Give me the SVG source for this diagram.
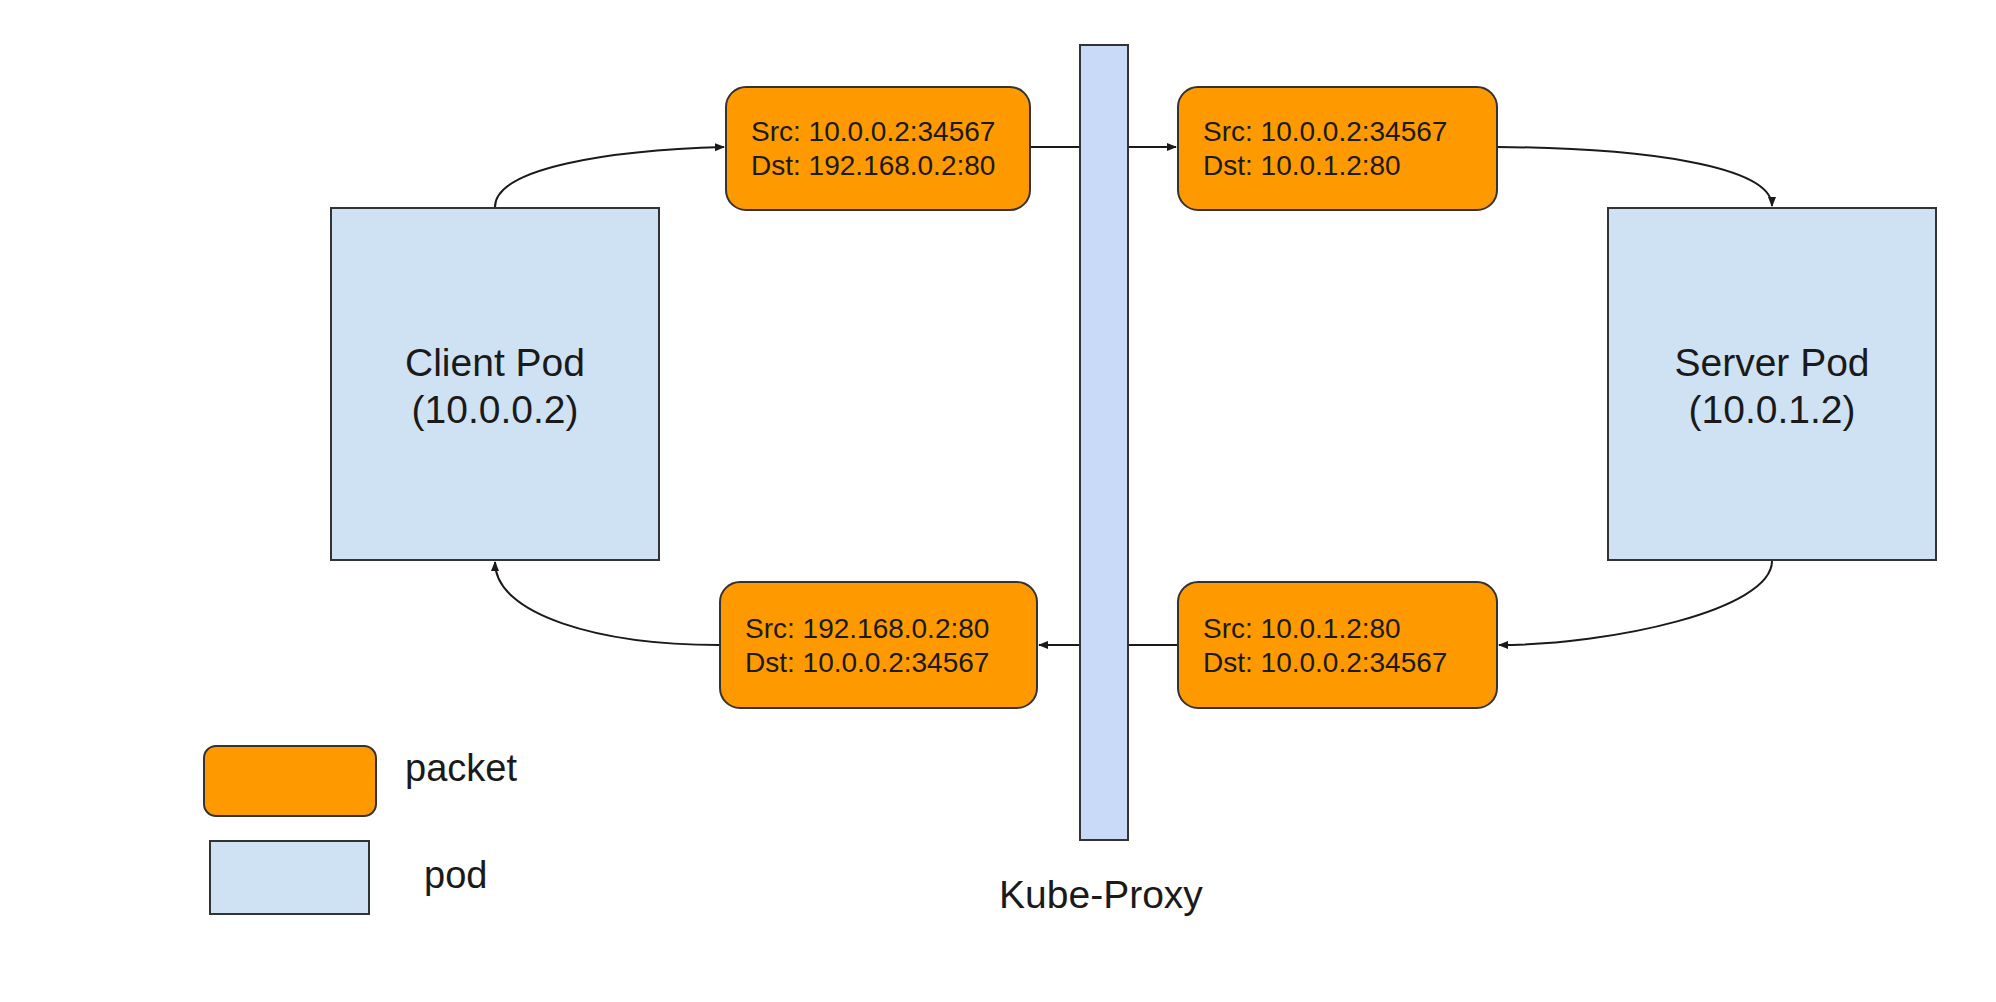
<svg xmlns="http://www.w3.org/2000/svg" width="1996" height="1002" viewBox="0 0 1996 1002">
<defs>
<style>
.pod{fill:#cfe2f3;stroke:#333;stroke-width:2}
.bar{fill:#c9daf8;stroke:#333;stroke-width:2}
.pkt{fill:#ff9900;stroke:#333;stroke-width:2}
.t{font-family:"Liberation Sans",Arial,sans-serif;fill:#1a1a1a}
.pt{font-size:28px}
.big{font-size:39px;text-anchor:middle}
.leg{font-size:38px}
.c{fill:none;stroke:#1a1a1a;stroke-width:2}
</style>
<marker id="ah" markerWidth="10" markerHeight="10" refX="9" refY="5" orient="auto" markerUnits="userSpaceOnUse">
<path d="M0,1 L10,5 L0,9 Z" fill="#1a1a1a"/>
</marker>
</defs>
<rect width="1996" height="1002" fill="#ffffff"/>
<g id="connectors">
<path class="c" d="M495,207 C495,168 610,150 724,147" marker-end="url(#ah)"/>
<path class="c" d="M1030,147 L1176,147" marker-end="url(#ah)"/>
<path class="c" d="M1497,147 C1640,148 1772,165 1772,206" marker-end="url(#ah)"/>
<path class="c" d="M1772,561 C1772,610 1610,645 1499,645" marker-end="url(#ah)"/>
<path class="c" d="M1177,645 L1039,645" marker-end="url(#ah)"/>
<path class="c" d="M719,645 C600,645 495,615 495,562" marker-end="url(#ah)"/>
</g>
<g id="kube-proxy">
<rect class="bar" x="1080" y="45" width="48" height="795"/>
<text class="t big" x="1101" y="908">Kube-Proxy</text>
</g>
<g id="client-pod">
<rect class="pod" x="331" y="208" width="328" height="352"/>
<text class="t big" x="495" y="376">Client Pod</text>
<text class="t big" x="495" y="423">(10.0.0.2)</text>
</g>
<g id="server-pod">
<rect class="pod" x="1608" y="208" width="328" height="352"/>
<text class="t big" x="1772" y="376">Server Pod</text>
<text class="t big" x="1772" y="423">(10.0.1.2)</text>
</g>
<g id="packet-1">
<rect class="pkt" x="726" y="87" width="304" height="123" rx="20"/>
<text class="t pt" x="751" y="141">Src: 10.0.0.2:34567</text>
<text class="t pt" x="751" y="175">Dst: 192.168.0.2:80</text>
</g>
<g id="packet-2">
<rect class="pkt" x="1178" y="87" width="319" height="123" rx="20"/>
<text class="t pt" x="1203" y="141">Src: 10.0.0.2:34567</text>
<text class="t pt" x="1203" y="175">Dst: 10.0.1.2:80</text>
</g>
<g id="packet-3">
<rect class="pkt" x="720" y="582" width="317" height="126" rx="20"/>
<text class="t pt" x="745" y="638">Src: 192.168.0.2:80</text>
<text class="t pt" x="745" y="672">Dst: 10.0.0.2:34567</text>
</g>
<g id="packet-4">
<rect class="pkt" x="1178" y="582" width="319" height="126" rx="20"/>
<text class="t pt" x="1203" y="638">Src: 10.0.1.2:80</text>
<text class="t pt" x="1203" y="672">Dst: 10.0.0.2:34567</text>
</g>
<g id="legend-packet">
<rect class="pkt" x="204" y="746" width="172" height="70" rx="12"/>
<text class="t leg" x="405" y="781">packet</text>
</g>
<g id="legend-pod">
<rect class="pod" x="210" y="841" width="159" height="73"/>
<text class="t leg" x="424" y="888">pod</text>
</g>
</svg>
